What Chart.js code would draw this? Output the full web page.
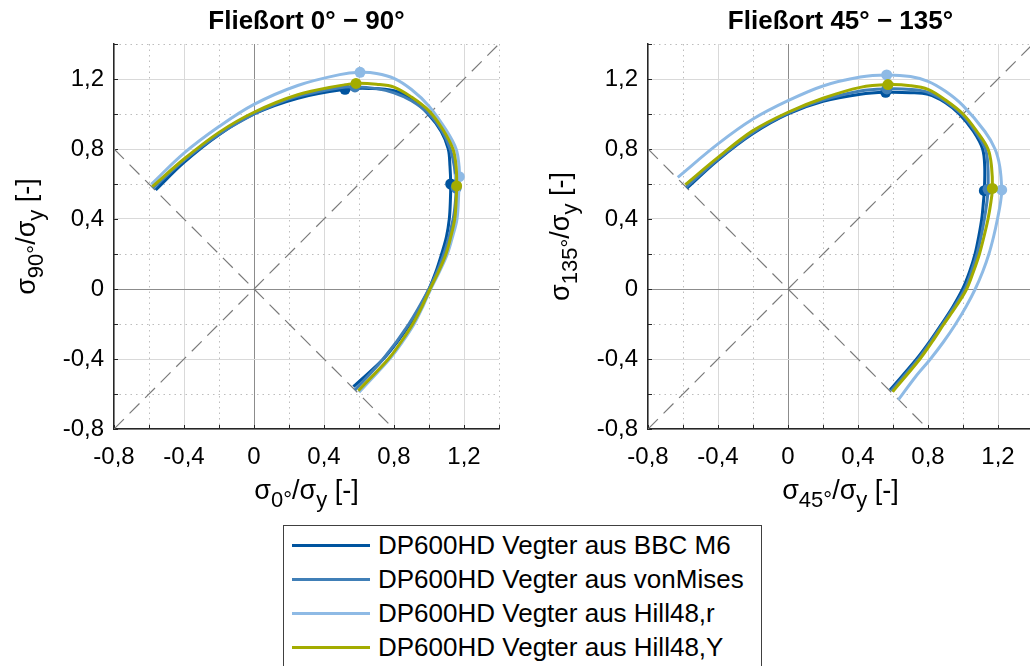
<!DOCTYPE html>
<html>
<head>
<meta charset="utf-8">
<script src="https://cdn.jsdelivr.net/npm/chart.js@4/dist/chart.umd.min.js"></script>
<style>
  html, body { margin: 0; padding: 0; background: #fff; overflow: hidden; width: 1030px; height: 666px; }
  .plot { position: absolute; top: 0; width: 515px; height: 520px; }
  #legend {
    position: absolute; left: 283px; top: 525px; width: 479px; height: 160px;
    border: 1px solid #404040; box-sizing: border-box; background: #fff;
    font-family: 'Liberation Sans', Arial, sans-serif; font-size: 26px; color: #000;
    padding-top: 2px;
  }
  #legend .row { height: 34px; display: flex; align-items: center; white-space: nowrap; }
  #legend .swatch { width: 78px; height: 0; border-top: 3px solid; margin: 0 8px 0 8px; }
</style>
</head>
<body>
<div class="plot" style="left:0"><canvas id="locus0"></canvas></div>
<div class="plot" style="left:534px"><canvas id="locus45"></canvas></div>
<div id="legend"></div>

<script>
// Fließorte DP600HD, Vegter-Modell aus verschiedenen Fließbedingungen

const FONT = "'Liberation Sans', Arial, sans-serif";

const seriesLabels = [
  'DP600HD Vegter aus BBC M6',
  'DP600HD Vegter aus vonMises',
  'DP600HD Vegter aus Hill48,r',
  'DP600HD Vegter aus Hill48,Y'
];
const seriesColors = ['#00549F', '#407FB7', '#8EBAE5', '#A3AC00'];

// Fließort 0° - 90°  [sigma_0/sigma_y, sigma_90/sigma_y]
const bbc090 = [[-0.562,0.566],[-0.4,0.724],[-0.2,0.882],[0,1.0],[0.25,1.09],[0.52,1.141],[0.66,1.146],[0.8,1.133],[0.9,1.085],[0.995,1.0],[1.07,0.9],[1.11,0.8],[1.12,0.7],[1.124,0.6],[1.122,0.5],[1.116,0.4],[1.1,0.3],[1.072,0.2],[1.04,0.1],[1.0,0],[0.95,-0.1],[0.891,-0.2],[0.82,-0.3],[0.739,-0.4],[0.568,-0.558]];
const vm090 = [[-0.577,0.577],[-0.4,0.735],[-0.2,0.885],[0,1.0],[0.12,1.055],[0.25,1.101],[0.49,1.15],[0.577,1.155],[0.7,1.145],[0.8,1.121],[0.9,1.076],[1.0,1.0],[1.076,0.9],[1.121,0.8],[1.145,0.7],[1.155,0.577],[1.15,0.49],[1.138,0.4],[1.101,0.25],[1.055,0.12],[1.0,0],[0.885,-0.2],[0.738,-0.4],[0.577,-0.577]];
const hillR090 = [[-0.587,0.598],[-0.4,0.776],[-0.2,0.928],[0,1.055],[0.25,1.163],[0.49,1.225],[0.606,1.238],[0.7,1.232],[0.8,1.204],[0.9,1.14],[1.0,1.045],[1.1,0.905],[1.155,0.8],[1.172,0.7],[1.173,0.642],[1.17,0.55],[1.16,0.4],[1.135,0.3],[1.105,0.2],[1.06,0.1],[1.01,0],[0.965,-0.1],[0.915,-0.2],[0.85,-0.3],[0.775,-0.4],[0.6,-0.59]];
const hillY090 = [[-0.581,0.585],[-0.4,0.743],[-0.2,0.895],[0,1.01],[0.25,1.11],[0.49,1.162],[0.583,1.175],[0.7,1.17],[0.8,1.154],[0.9,1.097],[1.0,1.018],[1.08,0.91],[1.137,0.8],[1.155,0.7],[1.158,0.589],[1.155,0.5],[1.147,0.4],[1.125,0.3],[1.097,0.2],[1.055,0.1],[1.006,0],[0.96,-0.1],[0.907,-0.2],[0.842,-0.3],[0.768,-0.4],[0.596,-0.581]];

// Stützpunkte (Fließspannungen) 0° - 90°
const bbc090Pts = [[0.52,1.141],[1.124,0.6]];
const vm090Pts = [[0.577,1.155],[1.155,0.577]];
const hillR090Pts = [[0.606,1.238],[1.173,0.642]];
const hillY090Pts = [[0.583,1.175],[1.158,0.589]];

// Fließort 45° - 135°  [sigma_45/sigma_y, sigma_135/sigma_y]
const bbc45 = [[-0.577,0.577],[-0.4,0.737],[-0.2,0.888],[0,1.0],[0.2,1.072],[0.413,1.113],[0.558,1.124],[0.7,1.122],[0.8,1.112],[0.9,1.065],[0.979,1.0],[1.06,0.9],[1.112,0.8],[1.124,0.7],[1.122,0.562],[1.117,0.5],[1.107,0.4],[1.09,0.3],[1.069,0.2],[1.038,0.1],[0.998,0],[0.943,-0.1],[0.878,-0.2],[0.81,-0.3],[0.735,-0.4],[0.583,-0.577]];
const vm45 = [[-0.582,0.582],[-0.4,0.743],[-0.2,0.895],[0,1.005],[0.2,1.08],[0.413,1.132],[0.565,1.143],[0.7,1.14],[0.8,1.124],[0.9,1.072],[0.99,1.0],[1.07,0.9],[1.128,0.8],[1.142,0.7],[1.143,0.57],[1.137,0.5],[1.122,0.4],[1.103,0.3],[1.08,0.2],[1.048,0.1],[1.01,0],[0.95,-0.1],[0.884,-0.2],[0.816,-0.3],[0.744,-0.4],[0.59,-0.582]];
const hillR45 = [[-0.63,0.638],[-0.4,0.829],[-0.2,0.971],[0,1.076],[0.2,1.16],[0.413,1.211],[0.564,1.223],[0.7,1.214],[0.8,1.187],[0.9,1.13],[1.0,1.048],[1.125,0.9],[1.183,0.8],[1.21,0.7],[1.221,0.566],[1.215,0.5],[1.197,0.4],[1.175,0.3],[1.148,0.2],[1.113,0.1],[1.07,0],[1.018,-0.1],[0.958,-0.2],[0.89,-0.3],[0.814,-0.4],[0.73,-0.5],[0.63,-0.634]];
const hillY45 = [[-0.587,0.596],[-0.4,0.752],[-0.2,0.905],[0,1.01],[0.2,1.09],[0.413,1.152],[0.571,1.168],[0.7,1.162],[0.8,1.141],[0.9,1.08],[1.0,1.0],[1.08,0.9],[1.143,0.8],[1.163,0.7],[1.168,0.575],[1.16,0.5],[1.143,0.4],[1.12,0.3],[1.094,0.2],[1.06,0.1],[1.021,0],[0.96,-0.1],[0.891,-0.2],[0.825,-0.3],[0.754,-0.4],[0.598,-0.587]];

const bbc45Pts = [[0.558,1.124],[1.122,0.562]];
const vm45Pts = [[0.565,1.143],[1.143,0.57]];
const hillR45Pts = [[0.564,1.223],[1.221,0.566]];
const hillY45Pts = [[0.571,1.168],[1.168,0.575]];

// Hilfslinien: Winkelhalbierende
const diagEqual = [[-0.8,-0.8],[1.4,1.4]];
const diagShear = [[-0.8,0.8],[0.8,-0.8]];

const axisMin = -0.8;
const axisMax = 1.4;
const tickStep = 0.2;

const toXY = arr => arr.map(p => ({ x: p[0], y: p[1] }));
const isMultiple = (v, step) => Math.abs(Math.round(v / step) * step - v) < 1e-6;
const fmtTick = v => {
  const r = Math.round(v * 10) / 10;
  return String(r).replace('.', ',');
};

function gridColor(v) {
  if (Math.abs(v) < 1e-6) return '#8c8c8c';
  if (isMultiple(v, 0.4)) return '#d9d9d9';
  return 'rgba(0,0,0,0)';
}

function axisConfig(isX) {
  return {
    type: 'linear',
    min: axisMin,
    max: axisMax,
    afterFit: s => { if (isX) s.height = 91; else s.width = 114; },
    ticks: {
      stepSize: tickStep,
      autoSkip: false,
      maxRotation: 0,
      padding: isX ? 14 : 10,
      color: '#000',
      font: { family: FONT, size: 24 },
      callback: v => isMultiple(v, 0.4) ? fmtTick(v) : ''
    },
    grid: {
      drawTicks: false,
      lineWidth: 1,
      color: c => gridColor(c.tick ? c.tick.value : 1)
    },
    border: { display: true, color: '#262626', width: 1.5 }
  };
}

// Achsbeschriftung mit tiefgestellten Indizes
function drawParts(ctx, parts, x, y, size) {
  const main = size + 'px ' + FONT;
  const sub = Math.round(size * 0.8) + 'px ' + FONT;
  let total = 0;
  parts.forEach(p => { ctx.font = p[1] ? sub : main; total += ctx.measureText(p[0]).width; });
  let cx = x - total / 2;
  ctx.textAlign = 'left';
  ctx.textBaseline = 'middle';
  parts.forEach(p => {
    ctx.font = p[1] ? sub : main;
    ctx.fillText(p[0], cx, y + (p[1] ? size * 0.32 : 0));
    cx += ctx.measureText(p[0]).width;
  });
}

const locusDecor = {
  id: 'locusDecor',
  // gepunktete Nebengitterlinien und kurze Innenticks
  beforeDatasetsDraw(chart) {
    const { ctx, chartArea: a, scales } = chart;
    ctx.save();
    ctx.strokeStyle = '#bdbdbd';
    ctx.lineWidth = 1;
    ctx.setLineDash([1.5, 4]);
    scales.x.ticks.forEach(t => {
      if (isMultiple(t.value, 0.4)) return;
      const px = Math.round(scales.x.getPixelForValue(t.value)) + 0.5;
      ctx.beginPath(); ctx.moveTo(px, a.top); ctx.lineTo(px, a.bottom); ctx.stroke();
    });
    scales.y.ticks.forEach(t => {
      if (isMultiple(t.value, 0.4)) return;
      const py = Math.round(scales.y.getPixelForValue(t.value)) + 0.5;
      ctx.beginPath(); ctx.moveTo(a.left, py); ctx.lineTo(a.right, py); ctx.stroke();
    });
    ctx.setLineDash([]);
    ctx.strokeStyle = '#262626';
    scales.x.ticks.forEach(t => {
      const px = Math.round(scales.x.getPixelForValue(t.value)) + 0.5;
      ctx.beginPath(); ctx.moveTo(px, a.bottom); ctx.lineTo(px, a.bottom - 4); ctx.stroke();
    });
    scales.y.ticks.forEach(t => {
      const py = Math.round(scales.y.getPixelForValue(t.value)) + 0.5;
      ctx.beginPath(); ctx.moveTo(a.left, py); ctx.lineTo(a.left + 4, py); ctx.stroke();
    });
    ctx.restore();
  },
  afterDraw(chart, args, opts) {
    const { ctx, chartArea: a } = chart;
    const cx = (a.left + a.right) / 2;
    const cy = (a.top + a.bottom) / 2;
    ctx.save();
    ctx.fillStyle = '#000';
    ctx.font = 'bold 26px ' + FONT;
    ctx.textAlign = 'center';
    ctx.textBaseline = 'middle';
    ctx.fillText(opts.title, cx, 22);
    drawParts(ctx, opts.xLabel, cx, a.bottom + 63, 27);
    ctx.translate(a.left - 86, cy);
    ctx.rotate(-Math.PI / 2);
    drawParts(ctx, opts.yLabel, 0, 0, 27);
    ctx.restore();
  }
};

function curveSet(data, i, order) {
  return {
    label: seriesLabels[i],
    data: toXY(data),
    showLine: true,
    borderColor: seriesColors[i],
    backgroundColor: seriesColors[i],
    borderWidth: 3,
    pointRadius: 0,
    tension: 0.35,
    order: order
  };
}

function markerSet(data, i, order) {
  return {
    label: seriesLabels[i] + ' Stützpunkte',
    data: toXY(data),
    showLine: false,
    pointRadius: 5.5,
    pointBorderWidth: 0,
    backgroundColor: seriesColors[i],
    borderColor: seriesColors[i],
    order: order
  };
}

function diagSet(data) {
  return {
    label: 'diag',
    data: toXY(data),
    showLine: true,
    borderColor: '#7a7a7a',
    borderWidth: 1.2,
    borderDash: [14, 8],
    pointRadius: 0,
    order: 20
  };
}

function makeLocus(canvasId, curves, markers, title, xLabel, yLabel) {
  const datasets = [diagSet(diagEqual), diagSet(diagShear)];
  curves.forEach((c, i) => datasets.push(curveSet(c, i, 8 - 2 * i)));
  markers.forEach((m, i) => datasets.push(markerSet(m, i, 7 - 2 * i)));
  return new Chart(document.getElementById(canvasId), {
    type: 'scatter',
    data: { datasets },
    options: {
      responsive: true,
      maintainAspectRatio: false,
      animation: false,
      events: [],
      layout: { padding: { top: 44, right: 16, left: 0, bottom: 0 } },
      scales: { x: axisConfig(true), y: axisConfig(false) },
      plugins: {
        legend: { display: false },
        tooltip: { enabled: false },
        locusDecor: { title, xLabel, yLabel }
      }
    },
    plugins: [locusDecor]
  });
}

makeLocus('locus0',
  [bbc090, vm090, hillR090, hillY090],
  [bbc090Pts, vm090Pts, hillR090Pts, hillY090Pts],
  'Fließort 0° − 90°',
  [['σ', false], ['0°', true], ['/σ', false], ['y', true], [' [-]', false]],
  [['σ', false], ['90°', true], ['/σ', false], ['y', true], [' [-]', false]]);

makeLocus('locus45',
  [bbc45, vm45, hillR45, hillY45],
  [bbc45Pts, vm45Pts, hillR45Pts, hillY45Pts],
  'Fließort 45° − 135°',
  [['σ', false], ['45°', true], ['/σ', false], ['y', true], [' [-]', false]],
  [['σ', false], ['135°', true], ['/σ', false], ['y', true], [' [-]', false]]);

// Legende unter beiden Diagrammen
const legendEl = document.getElementById('legend');
seriesLabels.forEach((label, i) => {
  const row = document.createElement('div');
  row.className = 'row';
  row.innerHTML = `<span class="swatch" style="border-color:${seriesColors[i]}"></span><span>${label}</span>`;
  legendEl.appendChild(row);
});
</script>
</body>
</html>
